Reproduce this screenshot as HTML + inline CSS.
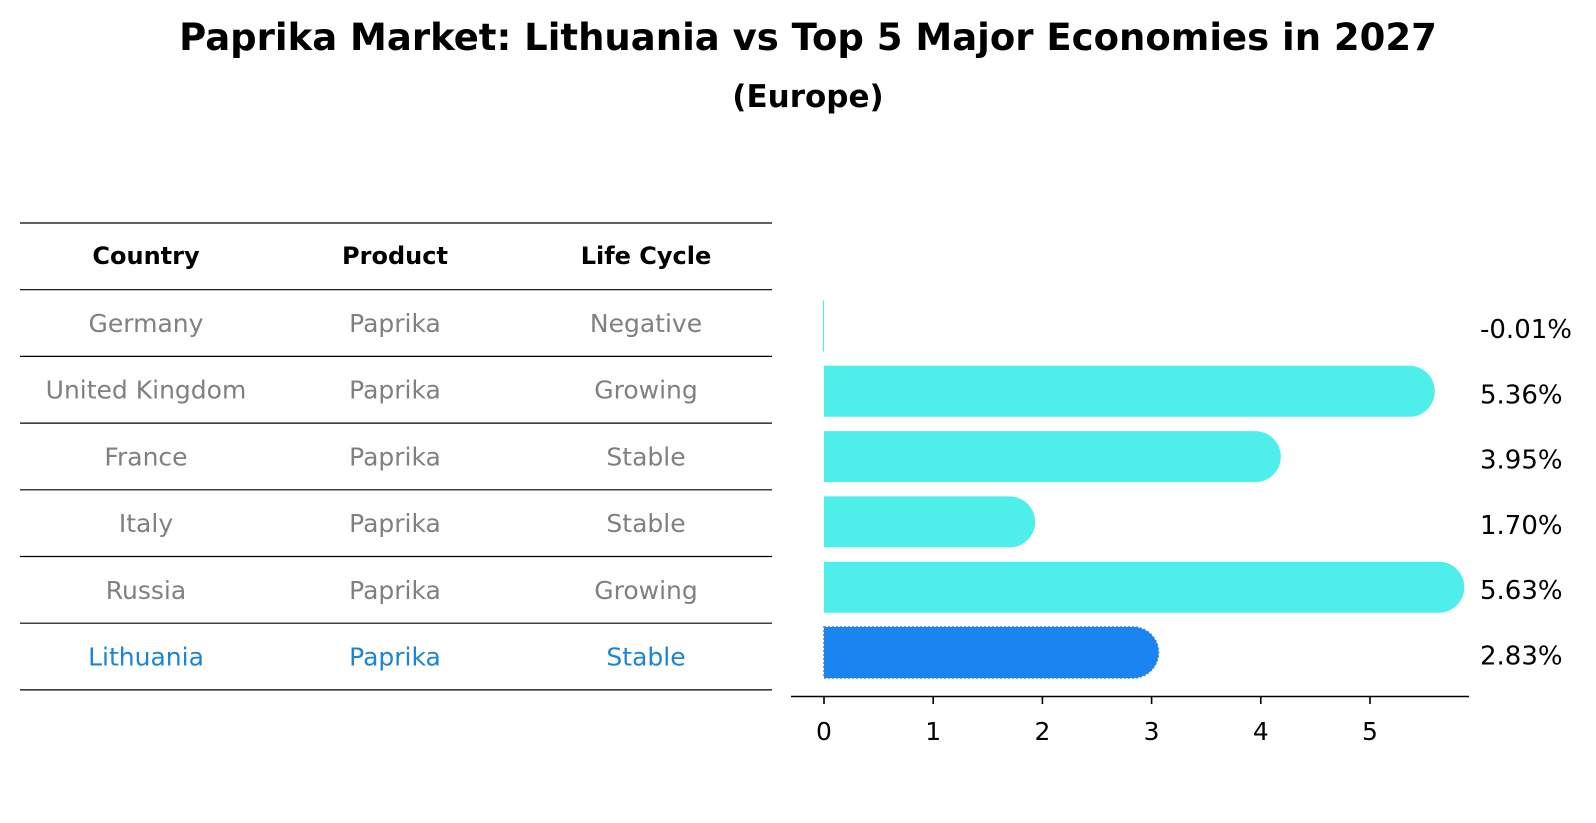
<!DOCTYPE html>
<html><head><meta charset="utf-8"><style>
body{margin:0;background:#fff;}
#wrap{position:relative;width:1596px;height:823px;overflow:hidden;}
</style></head><body>
<div id="wrap">
<svg id="svg" width="1596" height="823" style="position:absolute;left:0;top:0">
<text x="808" y="50" text-anchor="middle" font-size="37" font-weight="bold" font-family="'DejaVu Sans',sans-serif">Paprika Market: Lithuania vs Top 5 Major Economies in 2027</text>
<text x="808" y="107" text-anchor="middle" font-size="31" font-weight="bold" font-family="'DejaVu Sans',sans-serif">(Europe)</text>
</svg>
</div>
<script>
const countries=["Germany","United Kingdom","France","Italy","Russia","Lithuania"];
const products=["Paprika","Paprika","Paprika","Paprika","Paprika","Paprika"];
const lifecycle=["Negative","Growing","Stable","Stable","Growing","Stable"];
const values=[-0.01,5.36,3.95,1.70,5.63,2.83];
const ticks=[0,1,2,3,4,5];
const NS="http://www.w3.org/2000/svg";
const svg=document.getElementById('svg');
function mk(tag,attrs,txt){const e=document.createElementNS(NS,tag);for(const k in attrs)e.setAttribute(k,attrs[k]);if(txt!==undefined)e.textContent=txt;svg.appendChild(e);return e;}
const F="'DejaVu Sans',sans-serif";
// table
const rowTop=223,rowH=66.7;
for(let i=0;i<8;i++){const y=rowTop+i*rowH;
const l=mk('line',{x1:20,x2:772,y1:y,y2:y,stroke:'#000','stroke-width':1.2});

}
const colX=[146,395,646];
["Country","Product","Life Cycle"].forEach((h,i)=>{const t=mk('text',{x:colX[i],y:264,'text-anchor':'middle','font-size':24,'font-weight':'bold','font-family':F},h);

});
countries.forEach((c,i)=>{const y=332+i*rowH;const col=i===5?'#1a85d6':'#808080';
[c,products[i],lifecycle[i]].forEach((v,j)=>{const t=mk('text',{x:colX[j],y:y,'text-anchor':'middle','font-size':25,fill:col,'font-family':F},v);

});});
// bars
const x0=824,unit=109.2;const xs=v=>x0+v*unit;
const yc=i=>326+i*65.3;const bh=51;
values.forEach((v,i)=>{const y=yc(i)-bh/2;const col=i===5?'#1a85f0':'#4eeeea';
let el;
if(Math.abs(v)<0.05){el=mk('rect',{x:Math.min(xs(0),xs(v)),y:y,width:Math.max(1,Math.abs(xs(v)-xs(0))),height:bh,fill:col});}
else{const xe=xs(v),r=bh/2;
el=mk('path',{d:`M${xs(0)},${y} L${xe},${y} A${r},${r} 0 0 1 ${xe},${y+bh} L${xs(0)},${y+bh} Z`,fill:col,stroke:i===5?'#3b7fd0':'none','stroke-width':1.5,'stroke-dasharray':i===5?'2,2':''});}


const t=mk('text',{x:1480,y:yc(i)+12,'font-size':26,'font-family':F},v.toFixed(2)+'%');

});
// axis
const ax=mk('line',{x1:791,x2:1469,y1:696.5,y2:696.5,stroke:'#000','stroke-width':1.6});


ticks.forEach(v=>{const tk=mk('line',{x1:xs(v),x2:xs(v),y1:696,y2:704,stroke:'#000','stroke-width':1.6});


const t=mk('text',{x:xs(v),y:740,'text-anchor':'middle','font-size':25,'font-family':F},String(v));

});
</script>
</body></html>
